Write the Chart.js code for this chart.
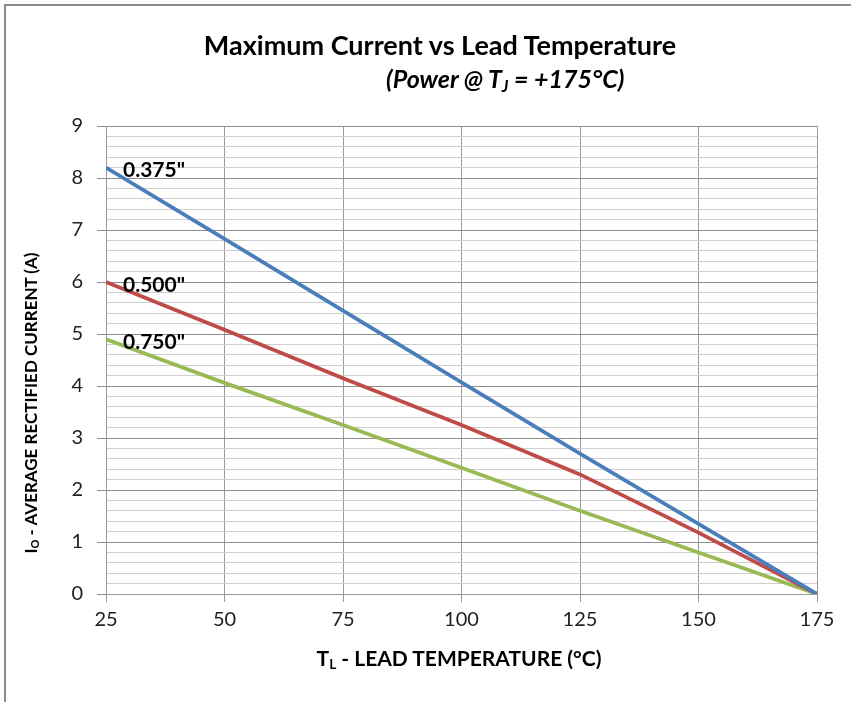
<!DOCTYPE html>
<html>
<head>
<meta charset="utf-8">
<script src="https://cdn.jsdelivr.net/npm/chart.js@4.4.1/dist/chart.umd.min.js"></script>
<style>
  html, body { margin: 0; padding: 0; background: #fff; }
  #wrap { position: relative; width: 851px; height: 702px; overflow: hidden; font-family: Lato, "Open Sans", sans-serif; color: #000; }
  #frame { position: absolute; left: 4px; top: 4px; width: 900px; height: 800px; border-left: 2px solid #8c8c8c; border-top: 2px solid #8c8c8c; box-sizing: border-box; }
  canvas { position: absolute; left: 0; top: 0; }
  .t { position: absolute; white-space: nowrap; font-weight: bold; line-height: 1; }
  #title { left: 440px; top: 31px; transform: translateX(-50%); font-size: 27px; }
  #subtitle { left: 386px; top: 66px; font-size: 25px; font-style: italic; }
  #ytitle { left: 30px; top: 403px; font-size: 17px; transform: translate(-50%, -50%) rotate(-90deg); }
  #xtitle { left: 459px; top: 657px; font-size: 21px; transform: translate(-50%, -50%); }
  sub { font-size: 65%; vertical-align: -0.25em; line-height: 0; }
</style>
</head>
<body>
<div id="wrap">
  <canvas id="c" width="851" height="702"></canvas>
  <div id="frame"></div>
  <div class="t" id="title">Maximum Current vs Lead Temperature</div>
  <div class="t" id="subtitle">(Power @ T<sub>J</sub> = +175°C)</div>
  <div class="t" id="ytitle">I<sub>O</sub> - AVERAGE RECTIFIED CURRENT (A)</div>
  <div class="t" id="xtitle">T<sub>L</sub> - LEAD TEMPERATURE (°C)</div>
</div>
<script>
// ---- data ----
const temps = [25, 50, 75, 100, 125, 150, 175];
const seriesNames = ['0.375"', '0.500"', '0.750"'];
const lead375 = [8.2, 6.83, 5.45, 4.07, 2.7, 1.35, 0];
const lead500 = [6.0, 5.08, 4.15, 3.25, 2.3, 1.18, 0];
const lead750 = [4.9, 4.06, 3.25, 2.43, 1.6, 0.8, 0];
const xTicks = [25, 50, 75, 100, 125, 150, 175];
const yMin = 0, yMax = 9, yMinorStep = 0.2;

const seriesValues = [lead375, lead500, lead750];
const seriesColors = ['#4A7EBB', '#BE4B48', '#98B954'];

const isMajor = v => Math.abs(v - Math.round(v)) < 1e-6;

const labelPlugin = {
  id: 'seriesLabels',
  afterDatasetsDraw(chart) {
    const ctx = chart.ctx;
    ctx.save();
    ctx.font = 'bold 21px Lato, sans-serif';
    ctx.fillStyle = '#000';
    ctx.textAlign = 'left';
    ctx.textBaseline = 'middle';
    chart.data.datasets.forEach((ds, i) => {
      const p = chart.getDatasetMeta(i).data[0];
      ctx.fillText(ds.label, p.x + 17, p.y + 3);
    });
    ctx.restore();
  }
};

new Chart(document.getElementById('c'), {
  type: 'line',
  data: {
    datasets: seriesNames.map((name, i) => ({
      label: name,
      data: temps.map((t, j) => ({ x: t, y: seriesValues[i][j] })),
      borderColor: seriesColors[i],
      backgroundColor: seriesColors[i],
      borderWidth: 3.75,
      pointRadius: 0,
      tension: 0,
      fill: false
    }))
  },
  options: {
    responsive: false,
    animation: false,
    devicePixelRatio: 1,
    layout: { padding: { left: 0, right: 34, top: 126, bottom: 0 } },
    plugins: { legend: { display: false }, title: { display: false }, tooltip: { enabled: false } },
    scales: {
      x: {
        type: 'linear',
        min: xTicks[0], max: xTicks[xTicks.length - 1],
        afterBuildTicks(s) { s.ticks = xTicks.map(v => ({ value: v })); },
        afterFit(s) { s.height = 108; },
        grid: { color: '#9a9a9a', lineWidth: 1, tickLength: 8, tickColor: '#9a9a9a' },
        border: { color: '#9a9a9a', width: 1 },
        ticks: { font: { family: 'Lato', size: 20 }, color: '#222', padding: 6, maxRotation: 0 }
      },
      y: {
        type: 'linear',
        min: yMin, max: yMax,
        ticks: {
          stepSize: yMinorStep, autoSkip: false,
          font: { family: 'Lato', size: 20 }, color: '#222', padding: 14,
          callback: v => isMajor(v) ? String(Math.round(v)) : ''
        },
        afterFit(s) { s.width = 106; },
        grid: {
          color: c => isMajor(c.tick.value) ? '#8c8c8c' : '#cfcfcf',
          lineWidth: 1,
          tickLength: 9,
          tickColor: c => isMajor(c.tick.value) ? '#8c8c8c' : 'rgba(0,0,0,0)'
        },
        border: { color: '#9a9a9a', width: 1 }
      }
    }
  },
  plugins: [labelPlugin]
});
</script>
</body>
</html>
